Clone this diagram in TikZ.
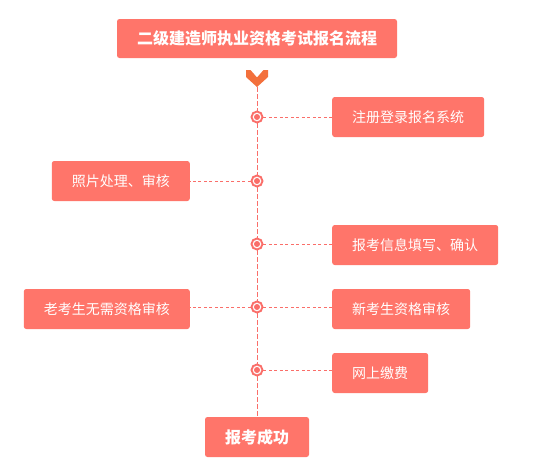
\documentclass[tikz,border=0pt]{standalone}
\usepackage{fontspec}
\setmainfont{Noto Sans CJK SC}
\usepackage{tikz}
\usetikzlibrary{positioning, calc}
\definecolor{boxred}{RGB}{255,117,106}
\definecolor{linered}{RGB}{250,110,105}
\definecolor{tiporange}{RGB}{243,112,60}

\begin{document}
\begin{tikzpicture}[x=1pt, y=-1pt,
    block/.style={rectangle, rounded corners=2.5pt, fill=boxred, text=white, minimum height=40pt, inner xsep=20pt, inner ysep=0pt, font=\fontsize{14}{16}\selectfont},
    headblock/.style={block, font=\fontsize{16}{18}\selectfont\bfseries},
    dot/.style={circle, draw=linered, line width=1.9pt, fill=white, minimum size=11pt, inner sep=0pt, path picture={\fill[linered] (path picture bounding box.center) circle (3pt);}},
    spine/.style={linered, line width=0.8pt, dash pattern=on 5pt off 2pt},
    link/.style={linered, line width=0.7pt, dash pattern=on 3pt off 2.5pt}
]
    \useasboundingbox (0,0) rectangle (538,469);

    % title and result
    \node [headblock, minimum height=39pt] (title) at (257,38.5) {二级建造师执业资格考试报名流程};
    \node [headblock] (done) at (257,437) {报考成功};
    \coordinate (tip) at (257,87);
    \fill [tiporange] (tip) ++(-11,-17) -- ++(4.5,0) -- ++(6.5,7.5) -- ++(6.5,-7.5) -- ++(4.5,0)
        -- ++(0,7) -- ++(-11,10) -- ++(-11,-10) -- cycle;

    % steps
    \node [dot] (d1) at (257,117) {};
    \node [dot] (d2) at (257,181) {};
    \node [dot] (d3) at (257,244) {};
    \node [dot] (d4) at (257,307) {};
    \node [dot] (d5) at (257,370) {};

    \node [block, anchor=west] (reg) at (332,117) {注册登录报名系统};
    \node [block, anchor=east] (photo) at (190,181) {照片处理、审核};
    \node [block, anchor=west] (info) at (332,245) {报考信息填写、确认};
    \node [block, anchor=east] (oldcheck) at (190,309) {老考生无需资格审核};
    \node [block, anchor=west] (newcheck) at (332,309) {新考生资格审核};
    \node [block, anchor=west] (pay) at (332,373) {网上缴费};

    % connectors
    \draw [spine] (tip) -- (d1);
    \draw [spine] (d1) -- (d2);
    \draw [spine] (d2) -- (d3);
    \draw [spine] (d3) -- (d4);
    \draw [spine] (d4) -- (d5);
    \draw [spine] (d5) -- (done);

    \draw [link] (d1) -- (reg.west |- d1);
    \draw [link] (d2) -- (photo.east |- d2);
    \draw [link] (d3) -- (info.west |- d3);
    \draw [link] (d4) -- (oldcheck.east |- d4);
    \draw [link] (d4) -- (newcheck.west |- d4);
    \draw [link] (d5) -- (pay.west |- d5);
\end{tikzpicture}
\end{document}
